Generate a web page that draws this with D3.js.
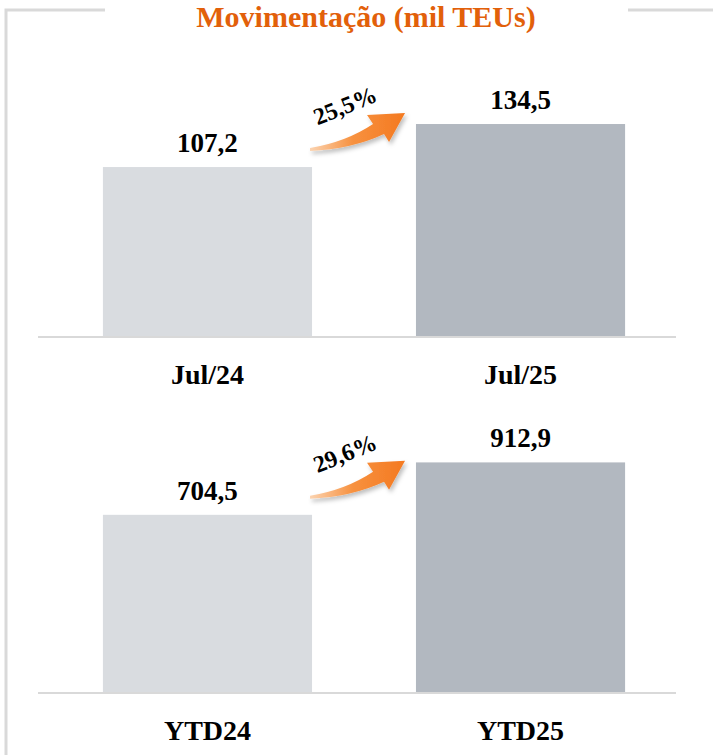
<!DOCTYPE html>
<html>
<head>
<meta charset="utf-8">
<script src="https://cdn.jsdelivr.net/npm/d3@7"></script>
<style>
  body { margin: 0; background: #fff; }
  svg { display: block; }
</style>
</head>
<body>
<div id="chart"></div>
<script>
// data
var title = "Movimentação (mil TEUs)";
var monthCats = ["Jul/24", "Jul/25"];
var monthVals = [107.2, 134.5];
var monthGrowth = "25,5%";
var ytdCats = ["YTD24", "YTD25"];
var ytdVals = [704.5, 912.9];
var ytdGrowth = "29,6%";

var colors = ["#d9dce0", "#b2b8c0"];
var width = 713;
var height = 755;
var fontFam = "'Liberation Serif', 'DejaVu Serif', serif";

var svg = d3.select("#chart")
    .append("svg")
    .attr("width", width)
    .attr("height", height);

// frame
var frame = svg.append("g")
    .attr("stroke", "#d9d9d9")
    .attr("stroke-width", 3)
    .attr("fill", "none");
frame.append("path").attr("d", "M105,10 H6 V755");
frame.append("path").attr("d", "M628,10 H713");

svg.append("text")
    .attr("x", 366)
    .attr("y", 27)
    .attr("text-anchor", "middle")
    .attr("font-family", fontFam)
    .attr("font-weight", "bold")
    .attr("font-size", "30px")
    .attr("fill", "#e2600a")
    .text(title);

var defs = svg.append("defs");
var grad = defs.append("linearGradient")
    .attr("id", "arrowGrad")
    .attr("x1", "0%").attr("y1", "0%")
    .attr("x2", "100%").attr("y2", "0%");
grad.append("stop").attr("offset", "0%").attr("stop-color", "#fbd3b0");
grad.append("stop").attr("offset", "45%").attr("stop-color", "#f7913f");
grad.append("stop").attr("offset", "100%").attr("stop-color", "#f47920");

var shadow = defs.append("filter").attr("id", "shadow")
    .attr("x", "-20%").attr("y", "-20%").attr("width", "150%").attr("height", "160%");
shadow.append("feDropShadow")
    .attr("dx", 2).attr("dy", 3).attr("stdDeviation", 2)
    .attr("flood-color", "#000").attr("flood-opacity", 0.25);

var x = d3.scaleBand()
    .domain([0, 1])
    .range([45, 683])
    .paddingInner(0.332)
    .paddingOuter(0.185);

function drawPanel(cats, vals, growth, baseY, scaleK) {
    var y = d3.scaleLinear()
        .domain([0, 1])
        .range([baseY, baseY - scaleK]);

    var g = svg.append("g");

    g.selectAll("rect")
        .data(vals)
        .enter()
        .append("rect")
        .attr("x", function(d, i) { return x(i); })
        .attr("y", function(d) { return y(d); })
        .attr("width", x.bandwidth())
        .attr("height", function(d) { return baseY - y(d); })
        .attr("fill", function(d, i) { return colors[i]; });

    g.append("line")
        .attr("x1", 38).attr("x2", 676)
        .attr("y1", baseY + 1).attr("y2", baseY + 1)
        .attr("stroke", "#d9d9d9")
        .attr("stroke-width", 2);

    g.selectAll(".val")
        .data(vals)
        .enter()
        .append("text")
        .attr("class", "val")
        .attr("x", function(d, i) { return x(i) + x.bandwidth() / 2; })
        .attr("y", function(d) { return y(d) - 15; })
        .attr("text-anchor", "middle")
        .attr("font-family", fontFam)
        .attr("font-weight", "bold")
        .attr("font-size", "27px")
        .attr("fill", "#000")
        .text(function(d) { return d3.format(".1f")(d).replace(".", ","); });

    g.selectAll(".cat")
        .data(cats)
        .enter()
        .append("text")
        .attr("class", "cat")
        .attr("x", function(d, i) { return x(i) + x.bandwidth() / 2; })
        .attr("y", baseY + 48)
        .attr("text-anchor", "middle")
        .attr("font-family", fontFam)
        .attr("font-weight", "bold")
        .attr("font-size", "28px")
        .attr("fill", "#000")
        .text(function(d) { return d; });

    // growth arrow, anchored at the right end of the first bar
    var ax = x(0) + x.bandwidth() - 2;
    var ay = y(vals[0]) - 19;
    var arrow = g.append("g")
        .attr("transform", "translate(" + ax + "," + ay + ")");
    arrow.append("path")
        .attr("d", "M0,3 Q42,1 74,-14 L79,-6 L95,-35 L57,-33 L63,-24 Q36,-6 0,0 Z")
        .attr("fill", "url(#arrowGrad)")
        .attr("filter", "url(#shadow)");
    arrow.append("text")
        .attr("transform", "translate(38,-35) rotate(-22)")
        .attr("text-anchor", "middle")
        .attr("font-family", fontFam)
        .attr("font-weight", "bold")
        .attr("font-size", "24px")
        .attr("fill", "#000")
        .text(growth);
}

drawPanel(monthCats, monthVals, monthGrowth, 336, 1.576);
drawPanel(ytdCats, ytdVals, ytdGrowth, 692, 0.2515);
</script>
</body>
</html>
